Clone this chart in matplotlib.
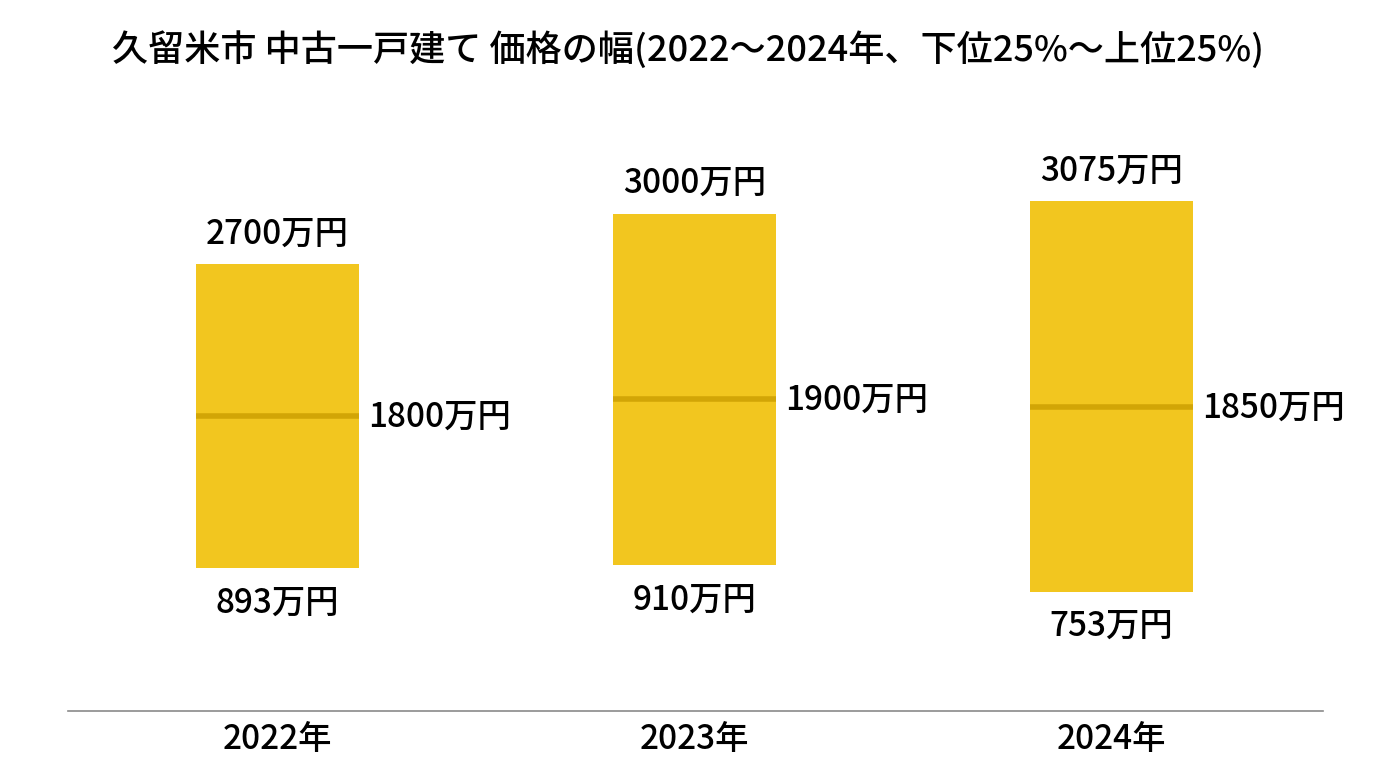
import matplotlib.pyplot as plt

plt.rcParams['font.family'] = ['Noto Sans CJK JP', 'DejaVu Sans']

# DATA (万円)
years = ['2022年', '2023年', '2024年']
lower = [893, 910, 753]      # 下位25%
median = [1800, 1900, 1850]  # 中央値
upper = [2700, 3000, 3075]   # 上位25%

bar_color = '#F2C61F'
med_color = '#D2A506'

fig = plt.figure(figsize=(13.76, 7.68), dpi=100)
ax = fig.add_axes([0.0494, 0.0742, 0.912, 0.7956])

x = range(len(years))
w = 0.39
heights = [u - l for u, l in zip(upper, lower)]
ax.bar(x, heights, bottom=lower, width=w, color=bar_color, edgecolor='none', zorder=2)
ax.hlines(median, [i - w/2 for i in x], [i + w/2 for i in x], colors=med_color, linewidth=4, zorder=3)

fs = 24
for i in x:
    ax.annotate(f'{upper[i]}万円', (i, upper[i]), xytext=(0, 22), textcoords='offset points',
                ha='center', va='center', fontsize=fs, fontweight='medium')
    ax.annotate(f'{lower[i]}万円', (i, lower[i]), xytext=(0, -25), textcoords='offset points',
                ha='center', va='center', fontsize=fs, fontweight='medium')
    ax.annotate(f'{median[i]}万円', (i + w/2, median[i]), xytext=(7, -1), textcoords='offset points',
                ha='left', va='center', fontsize=fs, fontweight='medium')

ax.set_xlim(-0.502, 2.507)
ax.set_ylim(42, 3679)
ax.set_xticks(list(x))
ax.set_xticklabels(years, fontsize=fs, fontweight='medium')
ax.tick_params(axis='x', length=0, pad=8)
ax.set_yticks([])
for s in ['top', 'right', 'left']:
    ax.spines[s].set_visible(False)
ax.spines['bottom'].set_color('#8a8a8a')
ax.spines['bottom'].set_linewidth(1.2)

fig.text(0.5, 0.935, '久留米市 中古一戸建て 価格の幅(2022～2024年、下位25%～上位25%)',
         ha='center', va='center', fontsize=26, fontweight='medium')

fig.savefig('out.png', dpi=100)
